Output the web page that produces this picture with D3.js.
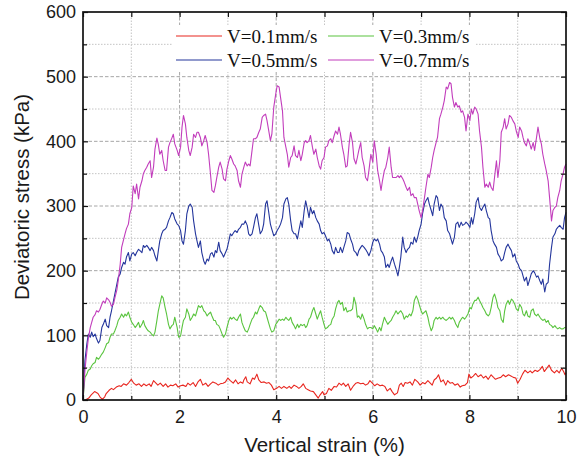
<!DOCTYPE html>
<html>
<head>
<meta charset="utf-8">
<script src="https://cdn.jsdelivr.net/npm/d3@7"></script>
<style>
  body { margin: 0; background: #fff; }
  text { font-family: "Liberation Sans", Arial, sans-serif; }
</style>
</head>
<body>
<div id="chart"></div>
<script>
// strain (%) shared by the 0.3, 0.5 and 0.7 mm/s records
const strain = [
  0.00,0.04,0.08,0.11,0.15,0.18,0.21,0.25,0.28,0.32,0.35,0.39,0.42,0.46,0.49,0.53,0.56,0.59,0.63,0.66,
  0.70,0.73,0.77,0.80,0.84,0.87,0.90,0.94,0.97,1.01,1.04,1.08,1.11,1.15,1.18,1.22,1.25,1.28,1.32,1.35,
  1.39,1.42,1.46,1.49,1.53,1.56,1.59,1.63,1.66,1.70,1.73,1.77,1.80,1.84,1.87,1.90,
  1.95,1.98,2.02,2.05,2.08,2.12,2.15,2.19,2.22,2.26,2.29,2.33,2.36,2.39,2.43,2.46,2.50,2.53,2.57,2.60,
  2.64,2.67,2.71,2.74,2.77,2.81,2.84,2.88,2.91,2.95,2.98,3.02,3.05,3.08,3.12,3.15,3.19,3.22,3.26,3.29,
  3.33,3.36,3.40,3.43,3.46,3.50,3.53,3.57,3.60,3.64,3.67,3.71,3.74,3.78,3.81,3.84,3.88,3.91,
  3.95,3.99,4.02,4.06,4.09,4.13,4.16,4.20,4.23,4.26,4.30,4.33,4.37,4.40,4.44,4.47,4.51,4.54,4.58,4.61,
  4.64,4.68,4.71,4.75,4.78,4.82,4.85,4.89,4.92,4.95,4.99,5.02,5.06,5.09,5.13,5.16,5.20,5.23,5.27,5.30,
  5.33,5.37,5.40,5.44,5.47,5.51,5.54,5.58,5.61,5.65,5.68,5.71,5.75,5.78,5.82,5.85,5.89,5.92,
  5.96,6.00,6.03,6.07,6.10,6.14,6.17,6.20,6.24,6.27,6.31,6.34,6.38,6.41,6.45,6.48,6.52,6.55,6.58,6.62,
  6.65,6.69,6.72,6.76,6.79,6.83,6.86,6.90,6.93,6.96,7.00,7.03,7.07,7.10,7.14,7.17,7.21,7.24,7.27,7.31,
  7.34,7.38,7.41,7.45,7.48,7.52,7.55,7.59,7.62,7.65,7.69,7.72,7.76,7.79,7.83,7.86,7.90,7.93,
  7.97,8.01,8.04,8.07,8.11,8.14,8.18,8.21,8.25,8.28,8.32,8.35,8.39,8.42,8.45,8.49,8.52,8.56,8.59,8.63,
  8.66,8.70,8.73,8.76,8.80,8.83,8.87,8.90,8.94,8.97,9.01,9.04,9.08,9.11,9.14,9.18,9.21,9.25,9.28,9.32,
  9.35,9.39,9.42,9.46,9.49,9.52,9.56,9.59,9.63,9.66,9.70,9.73,9.77,9.80,9.83,9.87,9.90,9.94,9.97,10.00
];

const stress07 = [
  0,46,75,95,112,120,128,132,138,136,140,148,153,150,158,155,151,145,148,158,
  170,185,210,236,248,257,265,272,288,298,331,319,334,311,329,339,350,355,360,365,
  370,344,360,388,405,395,380,386,370,355,355,391,398,405,411,396,
  386,378,391,422,440,427,406,386,378,391,411,406,414,414,406,393,401,409,398,380,
  349,324,321,331,344,360,368,357,342,339,357,370,378,373,365,362,355,339,329,349,
  360,368,362,365,362,386,404,404,406,414,419,437,440,442,432,419,401,411,
  453,473,486,484,468,447,406,391,380,360,375,378,393,378,375,386,370,380,398,401,
  398,401,409,391,380,388,375,362,357,370,375,391,393,401,404,398,409,416,411,422,
  411,391,380,360,362,396,414,398,373,365,375,386,398,375,362,344,339,355,
  380,368,401,380,355,339,324,339,355,360,375,391,360,344,344,344,347,344,347,342,
  337,329,324,329,316,319,313,313,303,293,282,293,313,329,349,344,360,375,386,398,
  406,435,442,453,463,484,481,491,489,468,453,460,453,455,445,447,437,416,
  442,432,450,442,453,450,442,416,391,360,329,334,329,337,329,324,344,370,344,370,
  414,422,435,419,427,440,437,432,427,416,406,422,416,406,398,393,404,396,388,398,
  386,406,422,404,396,380,365,355,339,313,277,293,298,300,313,324,339,350,360,365
];

const stress05 = [
  0,61,87,102,97,105,98,102,95,88,92,112,117,125,115,112,128,138,153,164,
  179,190,195,205,213,210,221,228,215,226,228,223,228,233,231,228,239,236,239,236,
  231,236,231,223,215,231,246,257,262,264,267,277,282,290,288,280,
  272,270,262,246,241,262,288,300,303,298,277,257,246,236,246,228,215,210,218,215,
  226,228,221,231,228,244,231,226,221,228,233,246,257,254,259,262,259,264,267,272,
  272,277,270,257,254,257,267,282,288,270,257,262,272,303,308,293,272,264,
  254,257,262,267,272,282,303,311,313,303,277,262,257,257,249,262,277,267,293,308,
  298,282,298,288,293,282,277,272,262,257,259,254,246,249,241,231,226,236,228,228,
  236,228,236,246,259,257,249,241,231,228,223,231,236,239,236,233,228,223,
  231,244,249,246,249,241,231,228,221,205,210,205,215,221,210,203,192,205,221,252,
  236,228,233,236,244,241,252,244,252,262,272,288,303,308,313,303,293,285,303,316,
  313,293,303,298,282,277,262,257,249,241,252,272,275,267,275,270,272,275,
  272,267,282,272,288,306,313,298,293,298,303,293,282,280,262,246,241,236,226,221,
  215,218,228,236,241,236,231,221,226,215,210,203,200,192,184,190,177,187,195,200,
  197,190,192,184,179,187,167,179,182,210,236,252,257,264,267,270,267,264,282,290
];

const stress03 = [
  0,35,40,46,48,53,56,58,66,63,66,71,74,81,87,89,97,102,102,107,
  115,123,128,133,128,133,130,136,128,120,117,112,115,120,112,117,123,115,110,107,
  105,102,99,105,123,138,148,161,158,143,133,117,110,115,117,128,
  112,97,99,112,123,128,141,133,123,128,133,130,138,146,143,146,138,136,130,133,
  136,130,123,123,117,115,110,102,97,102,112,123,128,125,128,125,123,128,133,120,
  112,107,105,110,117,125,128,136,133,141,146,143,138,136,128,120,110,105,
  107,117,120,125,123,125,123,128,125,123,128,120,115,110,117,112,117,115,117,112,
  115,125,128,138,143,133,125,133,138,128,117,110,112,115,117,125,130,141,151,154,
  148,151,138,143,136,138,138,141,159,148,128,130,125,133,125,117,110,112,
  112,110,115,110,105,112,107,117,128,123,117,120,123,128,133,138,133,136,138,133,
  125,130,128,133,130,138,154,161,156,148,138,133,136,138,128,117,107,112,123,128,
  125,128,125,128,125,123,125,128,125,128,123,117,112,120,125,128,125,128,
  133,143,141,148,154,154,159,154,148,143,138,133,130,133,143,159,164,154,143,138,
  125,120,138,148,154,148,156,154,148,141,138,148,143,133,130,138,130,128,138,141,
  133,130,133,128,125,123,125,120,123,117,115,112,115,112,110,112,110,110,112,112
];

// 0.1 mm/s record has its own strain samples
const strain01 = [
  0.05,0.12,0.17,0.24,0.31,0.35,0.40,0.45,0.48,0.54,0.59,0.63,0.69,0.75,0.79,0.84,0.90,0.95,1.00,1.05,
  1.10,1.16,1.21,1.26,1.31,1.37,1.41,1.46,1.50,1.55,1.60,1.66,1.71,1.76,1.81,1.86,1.92,1.97,2.02,2.07,
  2.13,2.17,2.22,2.28,2.33,2.38,2.43,2.48,2.54,2.59,2.64,2.69,2.75,2.80,2.84,2.90,2.95,3.00,3.05,3.11,
  3.16,3.21,3.26,3.31,
  3.33,3.37,3.40,3.46,3.51,3.55,3.60,3.64,3.69,3.75,3.80,3.85,3.90,3.95,4.01,4.06,4.11,4.16,4.22,4.27,
  4.31,4.37,4.42,4.47,4.52,4.56,4.61,4.66,4.71,4.77,4.82,4.87,4.91,4.96,4.99,5.04,5.09,5.14,5.20,5.25,
  5.30,5.35,5.39,5.44,5.49,5.54,5.60,5.65,5.69,5.75,5.80,5.85,5.90,5.94,5.99,6.04,6.09,6.15,6.20,6.25,
  6.30,6.36,6.40,6.45,6.51,6.55,6.59,6.63,
  6.67,6.72,6.77,6.82,6.87,6.93,6.98,7.03,7.08,7.14,7.18,7.23,7.27,7.32,7.36,7.41,7.46,7.51,7.55,7.60,
  7.65,7.70,7.76,7.81,7.85,7.91,7.96,7.99,8.03,8.08,8.13,8.18,8.24,8.29,8.34,8.39,8.45,8.50,8.54,8.60,
  8.65,8.70,8.75,8.81,8.86,8.91,8.96,9.00,9.05,9.10,9.15,9.21,9.26,9.30,9.36,9.41,9.46,9.51,9.55,9.60,
  9.65,9.70,9.76,9.81,9.86,9.91,9.95,9.98,10.00
];
const stress01 = [
  0,3,8,13,10,5,1,5,10,15,18,16,20,22,21,25,23,27,32,26,
  23,25,21,25,22,25,21,30,27,23,26,21,25,20,23,22,25,20,22,23,
  21,26,23,27,21,28,32,23,26,21,25,28,26,23,25,26,28,34,30,26,
  31,25,28,26,
  31,36,28,25,34,32,40,31,27,28,26,27,23,16,18,21,18,21,18,21,
  18,23,21,18,21,25,18,16,14,13,8,3,8,13,8,10,18,15,21,20,
  26,23,26,21,25,15,22,26,27,25,26,23,25,30,26,22,25,22,23,21,
  14,18,13,8,11,23,26,21,
  27,26,28,23,32,28,23,27,25,30,27,23,31,34,39,28,31,23,30,26,
  27,23,25,20,22,23,27,40,34,37,41,36,39,34,37,32,39,35,32,34,
  35,39,36,39,37,35,34,26,32,40,46,42,45,42,46,44,47,52,44,49,
  54,46,42,46,42,49,44,39,42
];

const seriesNames = ["V=0.1mm/s", "V=0.3mm/s", "V=0.5mm/s", "V=0.7mm/s"];
const seriesColors = ["#e8261f", "#5ac43f", "#24369c", "#c23dbc"];

const xMajor = [0, 2, 4, 6, 8, 10];
const xMinor = [1, 3, 5, 7, 9];
const yMajor = [0, 100, 200, 300, 400, 500, 600];
const yMinor = [50, 150, 250, 350, 450, 550];

const width = 581;
const height = 461;
const margin = { top: 12, right: 15, bottom: 61, left: 83 };

const svg = d3.select("#chart").append("svg")
    .attr("width", width)
    .attr("height", height)
    .style("display", "block");

const x = d3.scaleLinear().domain([0, 10]).range([margin.left, width - margin.right]);
const y = d3.scaleLinear().domain([0, 600]).range([height - margin.bottom, margin.top]);

const grid = svg.append("g");

// minor grid: light dotted
grid.selectAll("line.vmin").data(xMinor).enter().append("line")
    .attr("x1", d => x(d)).attr("x2", d => x(d))
    .attr("y1", y(0)).attr("y2", y(600))
    .attr("stroke", "#c4c4c4").attr("stroke-width", 1).attr("stroke-dasharray", "1.5,1.5");
grid.selectAll("line.hmin").data(yMinor).enter().append("line")
    .attr("x1", x(0)).attr("x2", x(10))
    .attr("y1", d => y(d)).attr("y2", d => y(d))
    .attr("stroke", "#c4c4c4").attr("stroke-width", 1).attr("stroke-dasharray", "1.5,1.5");

// major grid: grey dashed
grid.selectAll("line.vmaj").data(xMajor.slice(1, -1)).enter().append("line")
    .attr("x1", d => x(d)).attr("x2", d => x(d))
    .attr("y1", y(0)).attr("y2", y(600))
    .attr("stroke", "#a6a6a6").attr("stroke-width", 1).attr("stroke-dasharray", "3.5,2");
grid.selectAll("line.hmaj").data(yMajor.slice(1, -1)).enter().append("line")
    .attr("x1", x(0)).attr("x2", x(10))
    .attr("y1", d => y(d)).attr("y2", d => y(d))
    .attr("stroke", "#a6a6a6").attr("stroke-width", 1).attr("stroke-dasharray", "3.5,2");

// curves
const line = d3.line()
    .x(d => x(d[0]))
    .y(d => y(d[1]));

const curves = [
    d3.zip(strain01, stress01),
    d3.zip(strain, stress03),
    d3.zip(strain, stress05),
    d3.zip(strain, stress07)
];

svg.append("g")
    .selectAll("path")
    .data(curves)
    .enter()
    .append("path")
    .attr("d", line)
    .attr("fill", "none")
    .attr("stroke", (d, i) => seriesColors[i])
    .attr("stroke-width", 1.1)
    .attr("stroke-linejoin", "round");

// legend (white box over the grid)
const legend = svg.append("g");
legend.append("rect")
    .attr("x", 172).attr("y", 25)
    .attr("width", 303).attr("height", 47)
    .attr("fill", "#fff");

const legendItems = legend.selectAll("g.item")
    .data(seriesNames)
    .enter()
    .append("g")
    .attr("transform", (d, i) => `translate(${i % 2 === 0 ? 176 : 328},${i < 2 ? 36 : 60})`);

legendItems.append("line")
    .attr("x1", 0).attr("x2", 46)
    .attr("stroke", (d, i) => seriesColors[i])
    .attr("stroke-width", 1.2);

legendItems.append("text")
    .attr("x", 51)
    .attr("y", 7)
    .style("font-family", "'Liberation Serif', 'Times New Roman', serif")
    .style("font-size", "19px")
    .attr("fill", "#111")
    .text(d => d);

// axes with inward ticks
const tickFont = g => g.selectAll("text")
    .style("font-size", "18px")
    .style("font-family", "'Liberation Sans', Arial, sans-serif")
    .attr("fill", "#1a1a1a");

svg.append("g")
    .attr("transform", `translate(0,${y(0)})`)
    .call(d3.axisBottom(x).tickValues(xMajor).tickSize(-5).tickPadding(10).tickFormat(d3.format("d")))
    .call(g => g.select(".domain").remove())
    .call(tickFont);
svg.append("g")
    .attr("transform", `translate(0,${y(0)})`)
    .call(d3.axisBottom(x).tickValues(xMinor).tickSize(-4).tickFormat(""))
    .call(g => g.select(".domain").remove());

svg.append("g")
    .attr("transform", `translate(0,${y(600)})`)
    .call(d3.axisTop(x).tickValues(xMajor.concat(xMinor)).tickSize(-5).tickFormat(""))
    .call(g => g.select(".domain").remove());

svg.append("g")
    .attr("transform", `translate(${x(0)},0)`)
    .call(d3.axisLeft(y).tickValues(yMajor).tickSize(-5).tickPadding(7))
    .call(g => g.select(".domain").remove())
    .call(tickFont);
svg.append("g")
    .attr("transform", `translate(${x(0)},0)`)
    .call(d3.axisLeft(y).tickValues(yMinor).tickSize(-4).tickFormat(""))
    .call(g => g.select(".domain").remove());

svg.append("g")
    .attr("transform", `translate(${x(10)},0)`)
    .call(d3.axisRight(y).tickValues(yMajor.concat(yMinor)).tickSize(-5).tickFormat(""))
    .call(g => g.select(".domain").remove());

svg.selectAll(".tick line").attr("stroke", "#111").attr("stroke-width", 1.2);

// frame
svg.append("rect")
    .attr("x", x(0)).attr("y", y(600))
    .attr("width", x(10) - x(0)).attr("height", y(0) - y(600))
    .attr("fill", "none")
    .attr("stroke", "#111")
    .attr("stroke-width", 1.7);

// axis titles
svg.append("text")
    .attr("x", (x(0) + x(10)) / 2)
    .attr("y", 452)
    .attr("text-anchor", "middle")
    .style("font-size", "20.5px")
    .attr("fill", "#1a1a1a")
    .text("Vertical strain (%)");

svg.append("text")
    .attr("transform", `translate(29,${197}) rotate(-90)`)
    .attr("text-anchor", "middle")
    .style("font-size", "20.5px")
    .attr("fill", "#1a1a1a")
    .text("Deviatoric stress (kPa)");
</script>
</body>
</html>
